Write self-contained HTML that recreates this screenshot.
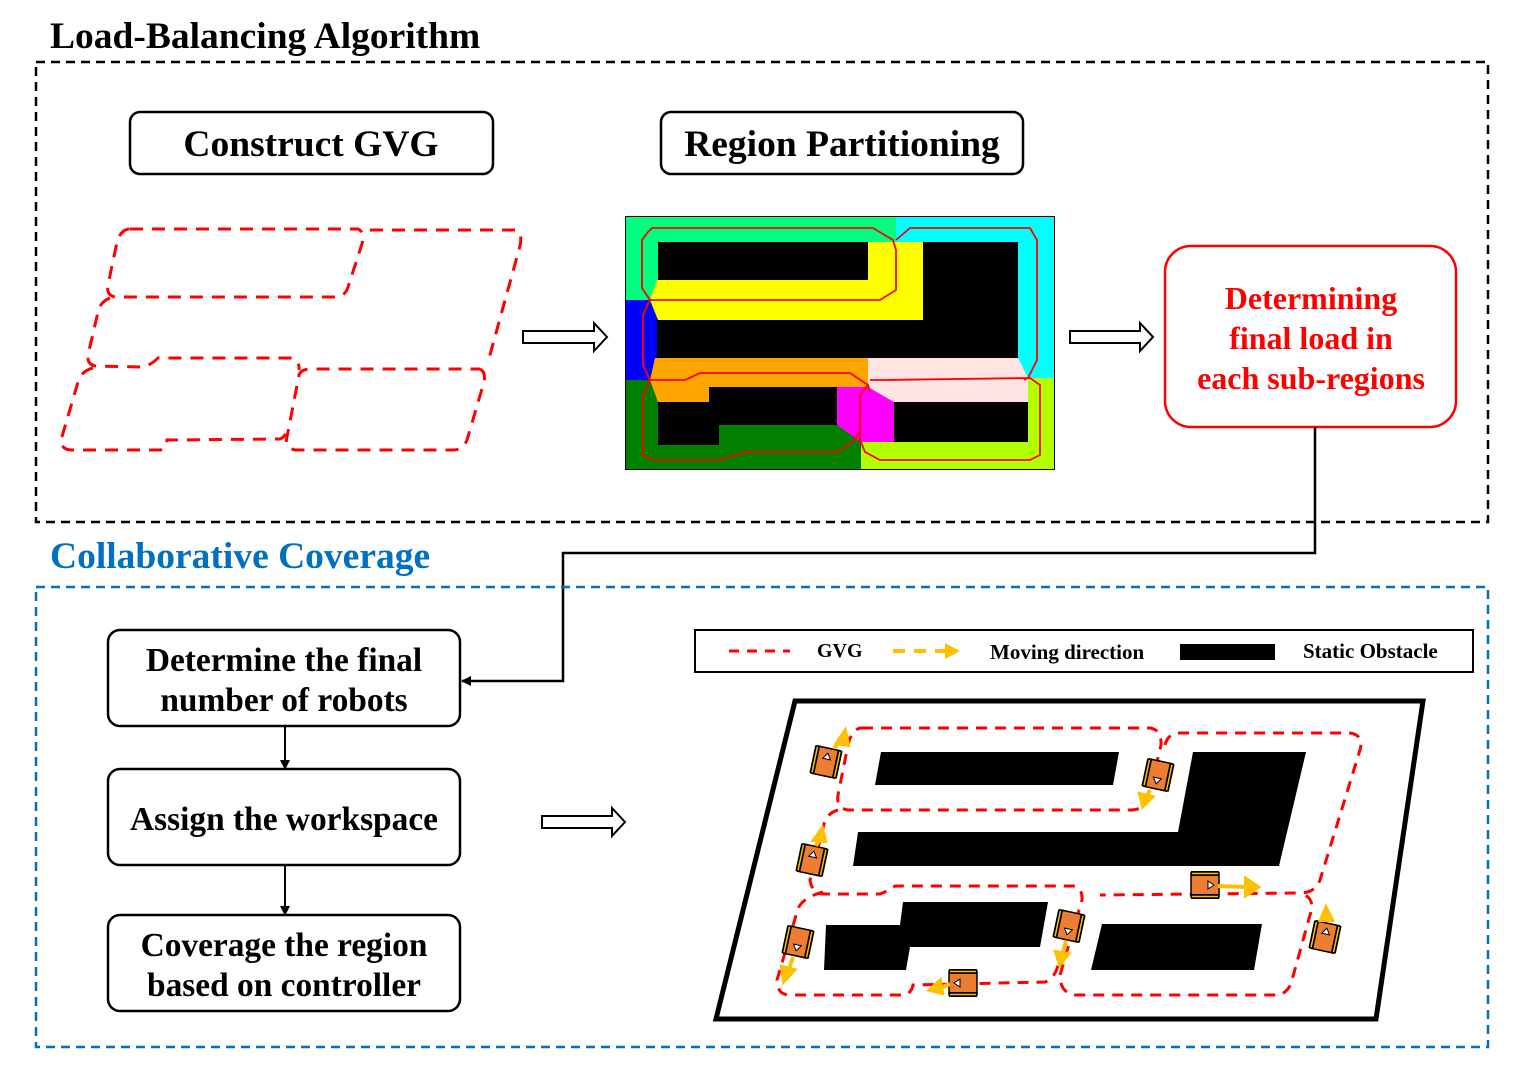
<!DOCTYPE html>
<html><head><meta charset="utf-8"><style>
html,body{margin:0;padding:0;background:#fff}
svg{display:block}
text{font-family:"Liberation Serif",serif;font-weight:bold}
</style></head><body>
<svg width="1522" height="1071" viewBox="0 0 1522 1071" xmlns="http://www.w3.org/2000/svg">
<defs>
<g id="rb">
<rect x="-12" y="-14" width="24" height="28" fill="#ed7d31" stroke="#000" stroke-width="1.5"/>
<rect x="-14" y="-14" width="5" height="28" fill="#000"/>
<rect x="9" y="-14" width="5" height="28" fill="#000"/>
<line x1="-11.5" y1="-13" x2="-11.5" y2="13" stroke="#ffc000" stroke-width="1.5"/>
<line x1="11.5" y1="-13" x2="11.5" y2="13" stroke="#ffc000" stroke-width="1.5"/>
<polygon points="0,-9 -4,-3 4,-3" fill="#fff" stroke="#000" stroke-width="1"/>
</g>
<marker id="ah" markerWidth="10" markerHeight="10" refX="9" refY="5" orient="auto" markerUnits="userSpaceOnUse"><polygon points="0,0 10,5 0,10" fill="#000"/></marker>
</defs>

<text x="50" y="48" font-size="37.5">Load-Balancing Algorithm</text>
<rect x="36" y="62" width="1452" height="460" fill="none" stroke="#000" stroke-width="2.5" stroke-dasharray="9,6"/>

<rect x="130" y="112" width="363" height="62" rx="10" fill="#fff" stroke="#000" stroke-width="2.5"/>
<text x="311" y="156" font-size="37.5" text-anchor="middle">Construct GVG</text>
<rect x="661" y="112" width="362" height="62" rx="10" fill="#fff" stroke="#000" stroke-width="2.5"/>
<text x="842" y="156" font-size="37.5" text-anchor="middle">Region Partitioning</text>

<g fill="none" stroke="#f00" stroke-width="3" stroke-dasharray="13,9">
<path d="M130,229 L358,229 Q365,232 362,244 L348,287 Q345,297 335,297 L115,297 Q106,295 108,285 L117,242 Q121,229 130,229"/>
<path d="M370,230 L515,230 Q523,233 520,246 L488,362"/>
<path d="M480,369 Q486,372 484,382 L467,440 Q463,450 453,450 L295,450 Q284,447 287,437 L299,375 Q301,369 311,369 L480,369"/>
<path d="M110,298 Q100,302 98,312 L88,355 Q87,365 96,366 L143,367 Q151,365 158,358 L290,358 Q300,360 299,370"/>
<path d="M93,368 Q81,371 78,382 L61,440 Q61,450 72,450 L160,450 Q166,449 167,440 L280,439 Q286,437 287,428"/>
</g>

<g fill="#fff" stroke="#000" stroke-width="2">
<polygon points="523,331 594,331 594,323 607,337 594,351 594,343 523,343"/>
<polygon points="1070,331 1140,331 1140,323 1153,337 1140,351 1140,343 1070,343"/>
<polygon points="542,816 612,816 612,808 625,822 612,836 612,828 542,828"/>
</g>

<g>
<rect x="625" y="216" width="430" height="254" fill="#000"/>
<rect x="626" y="217" width="270" height="83" fill="#00ff7f"/>
<rect x="896" y="217" width="158" height="161" fill="#00ffff"/>
<rect x="626" y="300" width="31" height="80" fill="#0000ff"/>
<rect x="626" y="380" width="235" height="89" fill="#007f00"/>
<rect x="861" y="378" width="193" height="91" fill="#b2ff00"/>
<polygon points="657,280 868,280 868,242 923,242 923,320 658,320 650,300" fill="#ffff00"/>
<polygon points="655,358 868,358 868,387 709,387 709,402 658,402 650,380" fill="#ffa500"/>
<polygon points="868,358 1018,358 1028,378 1028,402 894,402 868,387" fill="#ffe4e1"/>
<polygon points="837,387 868,387 894,402 894,442 861,442 837,425" fill="#ff00ff"/>
<rect x="658" y="242" width="210" height="38" fill="#000"/>
<polygon points="923,242 1018,242 1018,358 658,358 658,320 923,320" fill="#000"/>
<polygon points="709,387 837,387 837,425 719,425 719,445 658,445 658,402 709,402" fill="#000"/>
<rect x="894" y="402" width="134" height="40" fill="#000"/>
<g fill="none" stroke="#f00" stroke-width="1.8">
<path d="M648,232 L652,228 L873,228 L893,240 L896,250 L896,290 L880,300 L870,300 L650,300 L642,288 L642,240 Z"/>
<path d="M896,240 L910,228 L1030,228 L1037,240 L1037,360 L1028,378 L1024,380"/>
<path d="M650,300 L643,315 L643,365 L650,380 L643,395 L643,455 L652,460 L720,460 L745,452 L838,452 L855,440 L860,430"/>
<path d="M650,380 L685,380 L700,373 L850,373 L868,385 L870,392"/>
<path d="M870,380 L885,380 L1030,378 L1040,385 L1040,455 L1030,460 L880,460 L865,452 L860,440 L860,395 L868,385"/>
</g>
</g>

<rect x="1165" y="246" width="291" height="181" rx="26" fill="#fff" stroke="#f00" stroke-width="2.5"/>
<g font-size="32" fill="#f00" text-anchor="middle">
<text x="1311" y="309">Determining</text>
<text x="1311" y="349">final load in</text>
<text x="1311" y="389">each sub-regions</text>
</g>

<polyline points="1315,427 1315,553 563,553 563,681 462,681" fill="none" stroke="#000" stroke-width="2.5" marker-end="url(#ah)"/>

<text x="50" y="568" font-size="37.5" fill="#0070c0">Collaborative Coverage</text>
<rect x="36" y="587" width="1452" height="460" fill="none" stroke="#0070c0" stroke-width="2.5" stroke-dasharray="9,6"/>

<g fill="#fff" stroke="#000" stroke-width="2.5">
<rect x="108" y="630" width="352" height="96" rx="12"/>
<rect x="108" y="769" width="352" height="96" rx="12"/>
<rect x="108" y="915" width="352" height="96" rx="12"/>
</g>
<g font-size="33.4" text-anchor="middle">
<text x="284" y="671">Determine the final</text>
<text x="284" y="711">number of robots</text>
<text x="284" y="830">Assign the workspace</text>
<text x="284" y="956">Coverage the region</text>
<text x="284" y="996">based on  controller</text>
</g>
<line x1="285" y1="726" x2="285" y2="769" stroke="#000" stroke-width="2" marker-end="url(#ah)"/>
<line x1="285" y1="865" x2="285" y2="915" stroke="#000" stroke-width="2" marker-end="url(#ah)"/>

<rect x="695" y="630" width="778" height="42" fill="#fff" stroke="#000" stroke-width="2"/>
<line x1="729" y1="651" x2="790" y2="651" stroke="#f00" stroke-width="3" stroke-dasharray="10,8"/>
<text x="817" y="657" font-size="20">GVG</text>
<line x1="893" y1="651" x2="945" y2="651" stroke="#ffc000" stroke-width="4" stroke-dasharray="12,9"/>
<polygon points="945,643 960,651 945,659" fill="#ffc000"/>
<text x="990" y="659" font-size="21">Moving direction</text>
<rect x="1180" y="644" width="95" height="16" fill="#000"/>
<text x="1303" y="658" font-size="21">Static Obstacle</text>

<polygon points="795,701 1423,701 1376,1019 716,1019" fill="#fff" stroke="#000" stroke-width="5"/>
<polygon points="881,752 1119,752 1113,785 875,785" fill="#000"/>
<polygon points="858,832 1178,832 1193,752 1306,752 1279,866 853,866" fill="#000"/>
<polygon points="826,925 900,925 903,902 1048,902 1040,947 910,947 906,970 824,970" fill="#000"/>
<polygon points="1102,924 1262,924 1254,970 1091,970" fill="#000"/>
<g fill="none" stroke="#f00" stroke-width="3" stroke-dasharray="11,8">
<path d="M862,728 L1150,728 Q1162,730 1161,745 L1148,800 Q1143,810 1130,810 L848,810 Q836,808 838,795 L848,745 Q852,728 862,728"/>
<path d="M1165,745 Q1168,733 1180,733 L1350,733 Q1364,735 1360,750 L1320,880 Q1315,893 1300,893 L1100,895"/>
<path d="M838,810 Q826,813 823,828 L810,880 Q812,894 825,894 L880,894 Q890,890 895,886 L1075,886 Q1083,890 1082,900 L1060,975 Q1060,993 1075,995 L1280,995 Q1290,990 1292,980 L1310,915 Q1315,900 1305,895"/>
<path d="M823,892 Q800,898 797,912 L777,980 Q777,995 790,995 L905,995 Q912,992 913,985 L1045,982 Q1055,978 1058,965"/>
</g>
<g>
<use href="#rb" transform="translate(826,762) rotate(12)"/>
<use href="#rb" transform="translate(1158,775) rotate(192)"/>
<use href="#rb" transform="translate(812,860) rotate(12)"/>
<use href="#rb" transform="translate(798,942) rotate(192)"/>
<use href="#rb" transform="translate(1069,926) rotate(192)"/>
<use href="#rb" transform="translate(963,983) rotate(-90)"/>
<use href="#rb" transform="translate(1205,885) rotate(90)"/>
<use href="#rb" transform="translate(1325,937) rotate(12)"/>
</g>
<g stroke="#ffc000" stroke-width="4" fill="#ffc000">
<line x1="834" y1="748" x2="842" y2="740"/><polygon points="845,731 848,745 837,743"/>
<line x1="1150" y1="790" x2="1146" y2="798"/><polygon points="1143,806 1140,794 1152,797"/>
<line x1="816" y1="846" x2="820" y2="838"/><polygon points="822,829 825,841 814,840"/>
<line x1="793" y1="957" x2="788" y2="972"/><polygon points="784,981 782,967 794,970"/>
<line x1="1066" y1="941" x2="1062" y2="955"/><polygon points="1060,964 1056,952 1068,954"/>
<line x1="950" y1="984" x2="940" y2="988"/><polygon points="930,990 940,981 942,993"/>
<line x1="1218" y1="886" x2="1244" y2="887"/><polygon points="1258,887 1246,879 1246,895"/>
<line x1="1328" y1="922" x2="1327" y2="916"/><polygon points="1326,908 1321,920 1332,920"/>
</g>
</svg>
</body></html>
